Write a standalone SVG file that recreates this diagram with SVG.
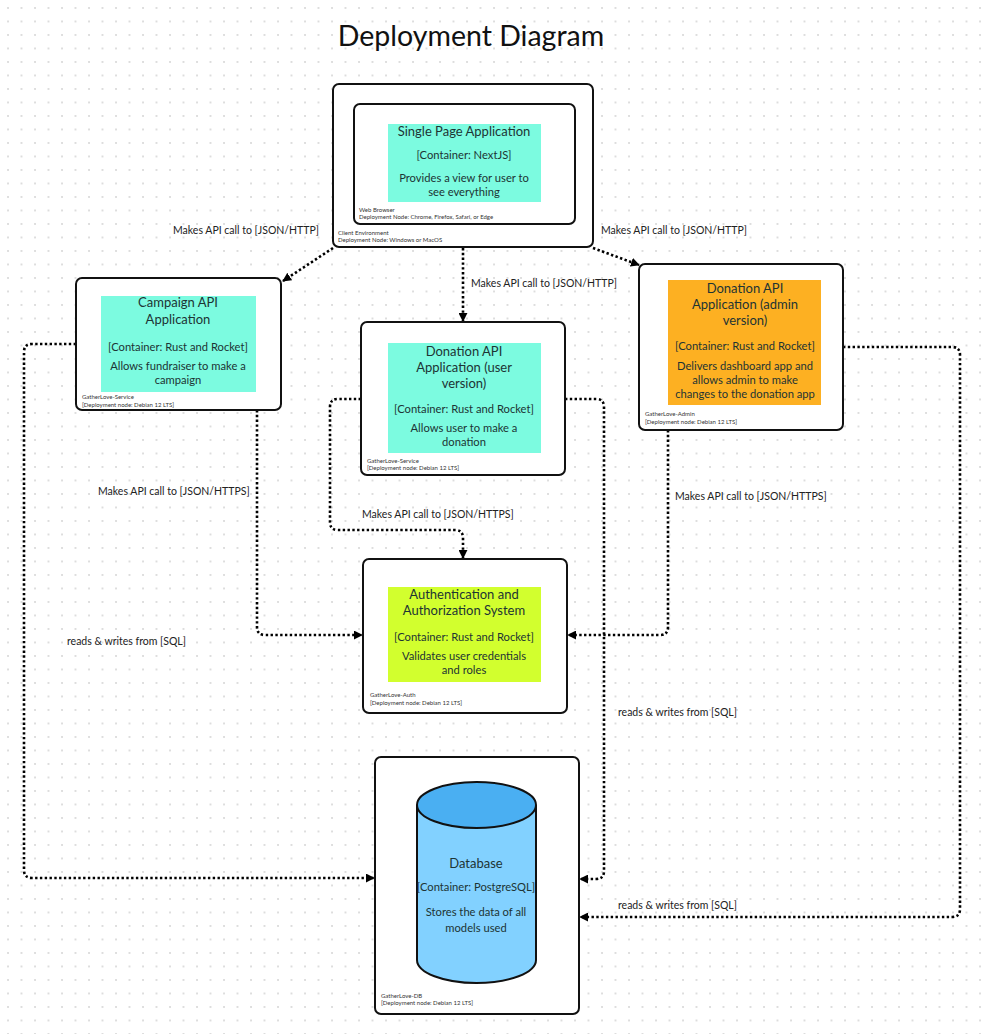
<svg xmlns="http://www.w3.org/2000/svg" width="984" height="1034" viewBox="0 0 984 1034">
<defs>
<pattern id="grid" x="7" y="7" width="13.5" height="13.5" patternUnits="userSpaceOnUse">
<circle cx="1" cy="1" r="0.9" fill="#cfcfcf"/>
</pattern>
<marker id="arr" viewBox="0 0 10 10" refX="9" refY="5" markerWidth="9" markerHeight="9" markerUnits="userSpaceOnUse" orient="auto">
<path d="M0,0 L10,5 L0,10 z" fill="#000"/>
</marker>
</defs>
<style>
.frame{fill:#fff;stroke:#111;stroke-width:2}
.teal{fill:#7cfbe0}
.orange{fill:#fdb022}
.lime{fill:#d2ff2e}
.t{font-family:Lato,"Liberation Sans",sans-serif;font-size:11.2px;fill:#1d3434;text-anchor:middle}
.h{font-size:13px}
.s{font-family:Lato,"Liberation Sans",sans-serif;font-size:6px;fill:#333}
.lbl{font-family:Lato,"Liberation Sans",sans-serif;font-size:10.5px;fill:#222}
.c{fill:none;stroke:#000;stroke-width:2.6;stroke-dasharray:2.4 2.4;marker-end:url(#arr)}
</style>
<rect width="984" height="1034" fill="#fff"/>
<rect width="984" height="1034" fill="url(#grid)"/>
<text x="471" y="46" font-family="Lato,'Liberation Sans',sans-serif" font-size="28.5" fill="#111" text-anchor="middle">Deployment Diagram</text>

<g id="connectors">
<path class="c" d="M333,248 L283,281"/>
<path class="c" d="M593,248 L639,265"/>
<path class="c" d="M463,248 L463,321"/>
<path class="c" d="M76,344 L32,344 Q24,344 24,352 L24,870 Q24,878 32,878 L374,878"/>
<path class="c" d="M257,410 L257,627 Q257,635 265,635 L362,635"/>
<path class="c" d="M361,399 L338,399 Q330,399 330,407 L330,522 Q330,530 338,530 L455,530 Q463,530 463,538 L463,558"/>
<path class="c" d="M565,399 L596,399 Q604,399 604,407 L604,871 Q604,879 596,879 L580,879"/>
<path class="c" d="M668,430 L668,627 Q668,635 660,635 L568,635"/>
<path class="c" d="M843,347 L952,347 Q960,347 960,355 L960,909 Q960,917 952,917 L580,917"/>
<text class="lbl" x="173" y="234">Makes API call to [JSON/HTTP]</text>
<text class="lbl" x="601" y="234">Makes API call to [JSON/HTTP]</text>
<text class="lbl" x="471" y="287">Makes API call to [JSON/HTTP]</text>
<text class="lbl" x="98" y="495">Makes API call to [JSON/HTTPS]</text>
<text class="lbl" x="362" y="518">Makes API call to [JSON/HTTPS]</text>
<text class="lbl" x="675" y="500">Makes API call to [JSON/HTTPS]</text>
<text class="lbl" x="67" y="645">reads &amp; writes from [SQL]</text>
<text class="lbl" x="618" y="716">reads &amp; writes from [SQL]</text>
<text class="lbl" x="618" y="909">reads &amp; writes from [SQL]</text>
</g>

<g id="client-environment">
<rect class="frame" x="333" y="84" width="260" height="163" rx="6"/>
<text class="s" x="338" y="235">Client Environment</text>
<text class="s" x="338" y="242">Deployment Node: Windows or MacOS</text>
</g>
<g id="web-browser">
<rect class="frame" x="354" y="104" width="221" height="120" rx="6"/>
<text class="s" x="359" y="212">Web Browser</text>
<text class="s" x="359" y="219">Deployment Node: Chrome, Firefox, Safari, or Edge</text>
</g>
<g id="spa">
<rect class="teal" x="388" y="124" width="153" height="78"/>
<text class="t h" x="464" y="136">Single Page Application</text>
<text class="t" x="464" y="159">[Container: NextJS]</text>
<text class="t" x="464" y="182">Provides a view for user to</text>
<text class="t" x="464" y="196">see everything</text>
</g>

<g id="campaign-api">
<rect class="frame" x="76" y="278" width="205" height="132" rx="6"/>
<rect class="teal" x="101" y="296" width="155" height="96"/>
<text class="t h" x="178" y="307">Campaign API</text>
<text class="t h" x="178" y="324">Application</text>
<text class="t" x="178" y="351">[Container: Rust and Rocket]</text>
<text class="t" x="178" y="370">Allows fundraiser to make a</text>
<text class="t" x="178" y="384">campaign</text>
<text class="s" x="82" y="399">GatherLove-Service</text>
<text class="s" x="82" y="407">[Deployment node: Debian 12 LTS]</text>
</g>

<g id="donation-api-user">
<rect class="frame" x="361" y="322" width="204" height="153" rx="6"/>
<rect class="teal" x="388" y="343" width="153" height="110"/>
<text class="t h" x="464" y="356">Donation API</text>
<text class="t h" x="464" y="372">Application (user</text>
<text class="t h" x="464" y="388">version)</text>
<text class="t" x="464" y="413">[Container: Rust and Rocket]</text>
<text class="t" x="464" y="432">Allows user to make a</text>
<text class="t" x="464" y="446">donation</text>
<text class="s" x="367" y="463">GatherLove-Service</text>
<text class="s" x="367" y="470">[Deployment node: Debian 12 LTS]</text>
</g>

<g id="donation-api-admin">
<rect class="frame" x="639" y="264" width="204" height="166" rx="6"/>
<rect class="orange" x="668" y="280" width="153" height="125"/>
<text class="t h" x="745" y="293">Donation API</text>
<text class="t h" x="745" y="309">Application (admin</text>
<text class="t h" x="745" y="325">version)</text>
<text class="t" x="745" y="350">[Container: Rust and Rocket]</text>
<text class="t" x="745" y="370">Delivers dashboard app and</text>
<text class="t" x="745" y="384">allows admin to make</text>
<text class="t" x="745" y="398">changes to the donation app</text>
<text class="s" x="645" y="416">GatherLove-Admin</text>
<text class="s" x="645" y="424">[Deployment node: Debian 12 LTS]</text>
</g>

<g id="auth-system">
<rect class="frame" x="363" y="559" width="204" height="154" rx="6"/>
<rect class="lime" x="388" y="587" width="153" height="95"/>
<text class="t h" x="464" y="599">Authentication and</text>
<text class="t h" x="464" y="615">Authorization System</text>
<text class="t" x="464" y="641">[Container: Rust and Rocket]</text>
<text class="t" x="464" y="660">Validates user credentials</text>
<text class="t" x="464" y="674">and roles</text>
<text class="s" x="370" y="697">GatherLove-Auth</text>
<text class="s" x="370" y="705">[Deployment node: Debian 12 LTS]</text>
</g>

<g id="database">
<rect class="frame" x="375" y="757" width="204" height="257" rx="6"/>
<path d="M417,805 L417,960 A59.5,23 0 0 0 536,960 L536,805" fill="#82d1ff" stroke="#111" stroke-width="2"/>
<ellipse cx="476.5" cy="805" rx="59.5" ry="23" fill="#4aaff2" stroke="#111" stroke-width="2"/>
<text class="t h" x="476" y="868">Database</text>
<text class="t" x="476" y="891">[Container: PostgreSQL]</text>
<text class="t" x="476" y="916">Stores the data of all</text>
<text class="t" x="476" y="932">models used</text>
<text class="s" x="381" y="998">GatherLove-DB</text>
<text class="s" x="381" y="1005">[Deployment node: Debian 12 LTS]</text>
</g>
</svg>
